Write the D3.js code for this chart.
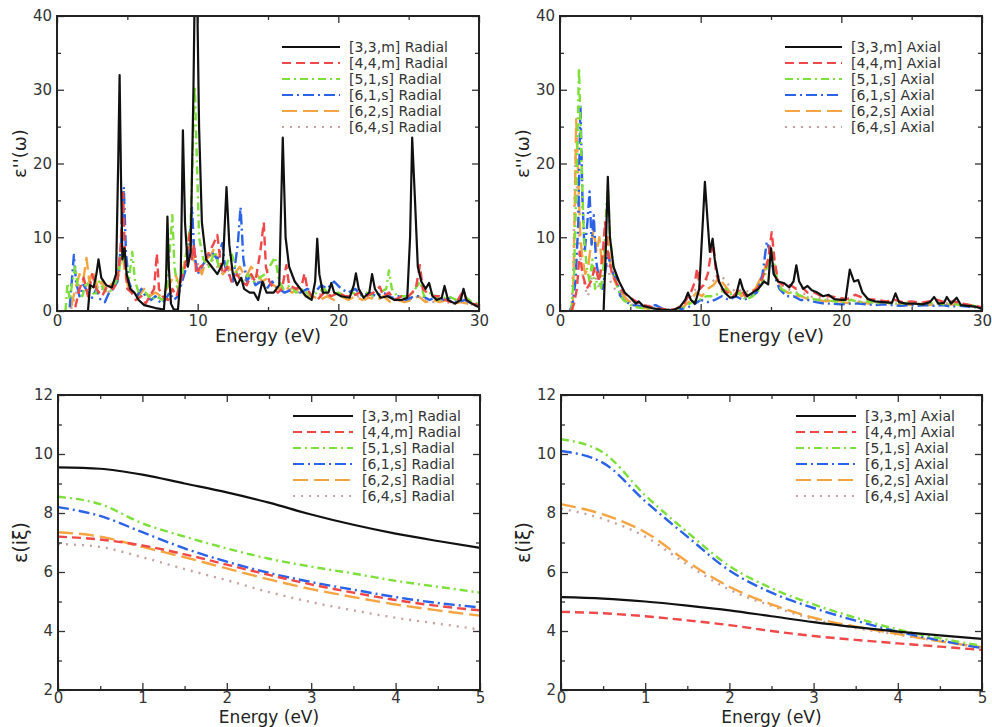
<!DOCTYPE html>
<html lang="en">
<head>
<meta charset="utf-8">
<title>Dielectric functions</title>
<script src="https://cdn.jsdelivr.net/npm/d3@7/dist/d3.min.js"></script>
<style>
  body { margin: 0; background: #fff; }
  text { font-family: "DejaVu Sans", sans-serif; }
</style>
</head>
<body>
<div id="chart"></div>
<script>
// series labels, same order everywhere
var tubes = ["[3,3,m]", "[4,4,m]", "[5,1,s]", "[6,1,s]", "[6,2,s]", "[6,4,s]"];

// eps''(w) radial, [energy eV, value]
var blackR = [[0,0],[2.2,0],[2.35,3.5],[2.6,3.2],[2.8,5],[2.95,7],[3.15,4.5],[3.5,3.5],[3.9,3.2],[4.2,5],[4.35,20],[4.45,32],[4.55,18],[4.65,7],[4.8,8.5],[4.95,5],[5.2,3],[5.5,2.5],[5.8,1.5],[6.2,0.8],[7,0.4],[7.6,0.2],[7.75,4],[7.85,12.8],[7.95,6],[8.1,1],[8.3,0.2],[8.6,0.2],[8.8,5],[8.95,24.5],[9.1,12],[9.3,6],[9.5,8],[9.7,30],[9.8,45],[9.95,45],[10.1,25],[10.3,12],[10.6,7],[11,6],[11.4,5],[11.8,6.5],[12.05,16.8],[12.25,9],[12.5,5],[12.8,3.5],[13.1,4.5],[13.3,3],[13.7,2.5],[14,2.5],[14.3,1.5],[14.6,4],[14.9,2.5],[15.4,2.5],[15.8,3.5],[16.05,23.5],[16.25,10],[16.5,6],[16.9,4],[17.3,3],[17.7,2],[18.1,1.5],[18.35,4],[18.5,9.8],[18.65,5],[18.9,2.5],[19.3,2.5],[19.5,3.8],[19.7,2.5],[20.2,2],[20.8,1.8],[21.1,3.5],[21.25,5.1],[21.45,3],[21.8,1.8],[22.2,2.5],[22.4,5],[22.6,3],[23,1.8],[23.5,2],[24,1.5],[24.5,1.5],[24.9,1.8],[25.1,10],[25.25,23.5],[25.45,15],[25.65,6],[25.9,4],[26.2,3],[26.45,3.8],[26.7,2],[27,1.5],[27.35,1.8],[27.55,3.4],[27.8,1.5],[28.3,1],[28.7,1.5],[28.9,3],[29.1,1.5],[29.5,1],[30,0.5]];
var redR = [[1.3,0.5],[1.6,3],[1.9,4.5],[2.2,2],[2.5,5],[2.8,3],[3.2,2],[3.6,3.5],[4.0,3],[4.3,4],[4.5,8],[4.7,16],[4.85,6],[5.0,3],[5.3,2.5],[5.6,1.5],[6.0,2],[6.3,1],[6.6,2],[6.9,3],[7.1,7.8],[7.25,3],[7.5,2],[7.9,1.5],[8.2,3],[8.5,2],[8.8,4],[9.1,6],[9.45,10.7],[9.6,7],[9.75,9],[9.9,5],[10.2,6],[10.5,6.5],[10.8,8],[11.1,9],[11.4,10.3],[11.6,7],[11.8,5],[12.1,6],[12.4,4],[12.8,5],[13.1,4],[13.5,3.5],[13.8,5],[14.1,4],[14.45,8],[14.7,12],[14.85,6],[15.1,4],[15.4,3],[15.7,2.5],[16.0,3],[16.3,6.2],[16.5,3.5],[17.0,3],[17.4,3.5],[17.6,5.1],[17.8,3],[18.1,2],[18.5,1.5],[19,2.5],[19.5,2],[20,2.5],[20.5,2],[21,2],[21.5,2.5],[22,2],[22.5,2.5],[22.95,3.3],[23.2,2],[23.6,2.5],[24,1.5],[24.5,2],[25,2],[25.5,3],[25.8,6.2],[26.0,3],[26.3,2.5],[26.8,2],[27.2,2],[27.6,1.5],[28,1.2],[28.5,1.5],[28.9,2.8],[29.1,1.5],[29.5,1],[30,0.8]];
var greenR = [[0.6,0],[0.75,3.8],[0.9,1.5],[1.1,4],[1.3,6],[1.5,3],[1.8,2],[2.1,4],[2.4,3],[2.7,2],[3.0,4],[3.3,3],[3.6,2.5],[4.0,3],[4.4,5],[4.6,9],[4.8,6],[5.1,4],[5.35,8],[5.55,4],[5.9,2],[6.3,2.5],[6.7,1.5],[7.1,2],[7.5,1.5],[7.8,3],[8.05,9],[8.2,13],[8.35,6],[8.6,3],[8.9,5],[9.2,8],[9.5,12],[9.7,25],[9.8,30.5],[9.95,20],[10.1,10],[10.4,7],[10.8,6],[11.2,8],[11.6,5.5],[12.0,6],[12.4,8],[12.8,5],[13.2,4],[13.6,5],[14.0,4],[14.4,4.5],[14.8,5],[15.1,6],[15.5,7.3],[15.8,4],[16.1,3],[16.6,3.5],[17,2.5],[17.5,3],[18,2],[18.5,2.5],[19,3],[19.5,2],[20,2.5],[20.5,2],[21,2.5],[21.5,2],[22,2.5],[22.5,2],[23,2.5],[23.4,3],[23.6,5.5],[23.8,3],[24.2,2],[24.8,2],[25.3,2.5],[25.8,4],[26.1,2],[26.6,2.5],[27.2,1.5],[27.8,2],[28.4,1.5],[29,2],[29.5,1.2],[30,1]];
var blueR = [[0.9,0.5],[1.05,4],[1.2,7.6],[1.35,4],[1.6,2],[1.9,3.5],[2.2,2.5],[2.5,1.8],[2.8,3],[3.1,1.5],[3.4,1.2],[3.7,2.5],[4.0,3],[4.3,4],[4.55,9],[4.75,16.8],[4.9,8],[5.1,4],[5.4,2.5],[5.7,2],[6.0,3],[6.3,2],[6.7,1.5],[7.0,2],[7.4,1],[7.7,1.5],[8.0,2.5],[8.3,1.5],[8.6,2],[8.9,4],[9.2,6],[9.45,10],[9.6,14],[9.75,8],[10,5],[10.3,6],[10.6,7],[11,8],[11.4,7],[11.75,9.2],[11.95,6],[12.2,5],[12.5,4],[12.85,9],[13.05,14.1],[13.25,7],[13.5,4],[13.8,5],[14.1,3.5],[14.5,4],[14.9,3],[15.3,4],[15.7,3],[16.2,2.5],[16.8,3],[17.3,2.5],[17.8,3],[18.3,2.5],[18.8,3.5],[19.2,3],[19.7,4],[20.2,3],[20.7,2.5],[21.2,3],[21.7,2],[22.2,2.5],[22.7,2],[23.2,2.5],[23.8,1.8],[24.3,2],[24.8,1.5],[25.4,2],[26,2],[26.5,1.5],[27,2],[27.5,1.5],[28,1.8],[28.5,1.2],[29,1.5],[29.5,1],[30,0.8]];
var orangeR = [[1.0,0.5],[1.3,3],[1.6,5],[1.85,4],[2.1,7.2],[2.3,4],[2.6,5.5],[2.9,3],[3.2,4],[3.5,2.5],[3.8,3.5],[4.1,4],[4.4,6],[4.65,8],[4.85,5],[5.1,3],[5.4,2.5],[5.8,2],[6.2,3],[6.6,2],[7.0,2.5],[7.4,2],[7.8,3],[8.1,4],[8.4,5],[8.7,3.5],[9.0,6],[9.3,8],[9.5,9.4],[9.7,7],[10,6],[10.3,5],[10.6,7],[10.9,7.5],[11.2,8.5],[11.5,6],[11.8,5],[12.2,6],[12.6,5],[13,6],[13.4,4.5],[13.8,6],[14.2,5],[14.6,4],[15,4.5],[15.4,3.5],[15.8,3],[16.2,3.5],[16.7,2.5],[17.2,3],[17.7,2],[18.2,2],[18.7,1.5],[19.2,2],[19.7,1.5],[20.2,2],[20.7,1.5],[21.2,2],[21.7,1.5],[22.2,1.8],[22.7,1.5],[23.2,2],[23.7,1.2],[24.2,1.5],[24.7,1.2],[25.2,1.5],[25.7,2],[26.2,1.2],[26.7,1.5],[27.2,1.2],[27.7,1.5],[28.2,1],[28.7,1.2],[29.2,1],[29.6,0.8],[30,0.6]];
var dotR = [[1.0,0.3],[1.3,2],[1.6,4],[2.0,3],[2.4,5],[2.8,3.5],[3.2,3],[3.6,2.5],[4.0,3],[4.4,5],[4.7,9],[4.9,5],[5.3,3],[5.7,2.5],[6.1,2],[6.5,2.5],[7.0,2],[7.5,1.5],[8.0,2.5],[8.4,3],[8.8,4],[9.2,6],[9.5,8],[9.7,10],[9.9,7],[10.2,5.5],[10.6,6],[11.0,7],[11.4,6],[11.8,5],[12.2,5.5],[12.6,4.5],[13.0,5],[13.5,4],[14,4.5],[14.5,3.5],[15,4],[15.5,3],[16,2.5],[16.6,3],[17.2,2.5],[17.8,2],[18.4,2.5],[19,2],[19.6,2.5],[20.2,2],[20.8,1.8],[21.4,2],[22,1.5],[22.6,2],[23.2,1.5],[23.8,1.8],[24.4,1.5],[25,1.5],[25.6,2],[26.2,1.5],[26.8,1.2],[27.4,1.5],[28,1],[28.6,1.2],[29.2,1],[30,0.7]];

// eps''(w) axial
var blackA = [[0,0],[3.1,0],[3.25,8],[3.4,18.2],[3.55,10],[3.8,6],[4.2,4],[4.6,2.5],[5.0,1.8],[5.4,1],[5.6,1.3],[5.9,0.7],[6.5,0.4],[7.2,0.2],[8.0,0.1],[8.5,0.5],[8.9,1.5],[9.1,2.5],[9.3,1.5],[9.6,1],[9.9,3],[10.15,12],[10.3,17.5],[10.5,12],[10.65,8],[10.85,9.8],[11.0,7],[11.3,4],[11.7,2.5],[12.1,1.8],[12.5,2],[12.8,4.3],[13.0,3],[13.3,2],[13.7,2.5],[14.1,3],[14.5,4],[14.8,3.6],[15.0,8.5],[15.2,5],[15.5,4],[15.9,3.8],[16.3,3.2],[16.6,4],[16.8,6.2],[17.0,4],[17.3,3],[17.6,3.4],[17.9,2.8],[18.3,2.5],[18.7,2],[19.1,2.2],[19.5,1.6],[20.0,1.5],[20.3,1.5],[20.6,5.6],[20.9,4],[21.2,4.2],[21.5,2.5],[21.9,1.6],[22.4,1.3],[23.0,1.2],[23.6,1.1],[23.85,2.4],[24.1,1.2],[24.6,1],[25.2,1],[25.8,0.9],[26.3,1.2],[26.6,1.9],[26.9,1],[27.3,1.1],[27.5,1.9],[27.8,1],[28.2,1.8],[28.5,0.8],[29,0.7],[29.5,0.6],[30,0.3]];
var redA = [[0.8,0],[1.0,1],[1.2,3],[1.4,8],[1.6,5],[1.9,3],[2.2,4],[2.5,6],[2.8,4],[3.05,8],[3.2,12],[3.4,8],[3.7,5],[4.1,3.5],[4.5,2.5],[5.0,1.8],[5.5,1.2],[6.0,0.8],[6.8,0.4],[7.5,0.2],[8.2,0.2],[8.8,1],[9.3,2.5],[9.6,4],[9.75,5.8],[9.95,3],[10.2,3.5],[10.5,5],[10.75,8],[10.9,9.2],[11.1,5],[11.5,3],[11.9,2.5],[12.3,2],[12.8,3],[13.2,2],[13.6,2.5],[14.0,3],[14.4,4.5],[14.8,7],[15.05,10.7],[15.25,7],[15.5,4],[15.9,3.5],[16.4,3.5],[16.8,3],[17.2,3.2],[17.6,2.5],[18.1,2.5],[18.6,2],[19.2,2],[19.8,1.8],[20.4,1.6],[21,2.2],[21.5,1.8],[22,1.6],[22.6,1.5],[23.2,1.3],[23.8,1.5],[24.4,1.2],[25,1.3],[25.6,1.1],[26.2,1.3],[26.8,1.5],[27.4,1.2],[28,1.3],[28.6,1],[29.2,0.8],[30,0.5]];
var greenA = [[0.8,0],[1.0,5],[1.2,20],[1.35,33],[1.5,22],[1.7,10],[1.9,6],[2.1,4],[2.3,7],[2.5,3],[2.7,5],[2.9,3],[3.1,6],[3.3,14],[3.4,17],[3.55,10],[3.8,6],[4.1,3],[4.5,1.5],[5.0,0.8],[5.5,0.5],[6.2,0.3],[7.0,0.2],[8.0,0.1],[8.8,0.5],[9.4,1.2],[9.9,1.5],[10.4,2],[10.9,2],[11.4,2.5],[11.8,3],[12.3,2],[12.8,2.5],[13.2,1.5],[13.7,2],[14.2,3],[14.6,5],[14.9,7],[15.1,8],[15.35,5],[15.7,3],[16.2,2.5],[16.7,2.5],[17.2,2],[17.7,1.8],[18.3,1.5],[18.9,1.5],[19.5,1.3],[20.1,1.2],[20.7,1.5],[21.3,1.2],[21.9,1.3],[22.5,1],[23.1,1.2],[23.7,1],[24.3,1],[24.9,1.2],[25.5,0.9],[26.1,1],[26.7,1.1],[27.3,0.9],[27.9,1],[28.5,0.8],[29.1,0.9],[29.6,0.6],[30,0.4]];
var blueA = [[0.7,0],[0.9,1],[1.1,4],[1.3,12],[1.45,28],[1.6,15],[1.75,8],[1.95,12],[2.1,16.2],[2.25,9],[2.4,13],[2.55,7],[2.8,4],[3.0,3],[3.2,5],[3.4,8],[3.6,6],[3.8,5],[4.0,4.5],[4.3,2],[4.7,1.2],[5.2,0.8],[6,0.6],[6.8,0.8],[7.3,0.3],[8,0.1],[8.7,0.3],[9.2,0.6],[9.6,1],[10,1.5],[10.5,1.2],[11,1.5],[11.5,2],[12,1.5],[12.5,2],[13,1.5],[13.5,1.8],[14,2.5],[14.4,5],[14.7,9.4],[14.95,8],[15.2,5],[15.6,3],[16.1,2],[16.6,2],[17.1,1.5],[17.6,1.5],[18.2,1.2],[18.8,1],[19.4,1],[20,0.9],[20.6,1],[21.2,1],[21.8,0.9],[22.4,0.8],[23,0.9],[23.6,0.8],[24.2,0.7],[24.8,0.8],[25.4,0.7],[26,0.8],[26.6,0.7],[27.2,0.8],[27.8,0.6],[28.4,0.7],[29,0.6],[29.6,0.5],[30,0.3]];
var orangeA = [[0.9,0],[1.0,8],[1.15,26],[1.3,18],[1.45,10],[1.6,7],[1.8,5],[2.0,6],[2.2,9],[2.4,11],[2.6,8],[2.8,10],[3.0,6],[3.2,8],[3.4,10],[3.6,6],[3.9,4],[4.3,2.5],[4.8,1.5],[5.3,0.8],[6,0.4],[7,0.2],[8,0.1],[8.8,0.6],[9.3,1.5],[9.7,2.5],[10.1,2],[10.5,3],[10.9,3.5],[11.3,4.5],[11.7,3.5],[12.1,2.5],[12.5,3],[12.9,2],[13.4,2.5],[13.9,3],[14.4,5],[14.8,7],[15.0,8.5],[15.3,5],[15.7,3],[16.2,2.5],[16.7,2],[17.2,2],[17.7,1.5],[18.3,1.5],[18.9,1.3],[19.5,1.5],[20.1,1.2],[20.7,1],[21.3,1.2],[21.9,1],[22.5,1],[23.1,1.2],[23.7,0.9],[24.3,1],[24.9,0.8],[25.5,1],[26.1,0.8],[26.7,0.9],[27.3,0.8],[27.9,0.9],[28.5,0.7],[29.1,0.8],[29.6,0.5],[30,0.4]];
var dotA = [[0.8,0],[0.95,6],[1.1,22],[1.25,15],[1.4,8],[1.6,5],[1.8,3],[2.0,2],[2.2,4],[2.4,6],[2.6,4],[2.8,3],[3.0,5],[3.2,7],[3.4,6],[3.6,4],[3.9,3],[4.3,2],[4.8,1.2],[5.3,0.7],[6,0.4],[7,0.2],[8,0.2],[8.8,0.8],[9.3,2],[9.8,3.5],[10.2,4],[10.6,4.5],[11.0,4],[11.4,5],[11.8,4],[12.2,3],[12.6,2.5],[13,3],[13.5,2.5],[14,3],[14.4,4.5],[14.8,6.5],[15.05,7.5],[15.3,5],[15.7,3.5],[16.2,3],[16.7,2.5],[17.2,2.5],[17.7,2],[18.3,1.8],[18.9,1.6],[19.5,1.5],[20.1,1.4],[20.7,1.5],[21.3,1.3],[21.9,1.2],[22.5,1.2],[23.1,1.1],[23.7,1.2],[24.3,1],[24.9,1.1],[25.5,1],[26.1,1.1],[26.7,1],[27.3,1.1],[27.9,0.9],[28.5,1],[29.1,0.8],[29.6,0.6],[30,0.4]];

// eps(i xi), sampled every 0.5 eV from 0 to 5
var xiGrid = [0, 0.5, 1, 1.5, 2, 2.5, 3, 3.5, 4, 4.5, 5];
var xiRadial = [
  [9.55, 9.5, 9.3, 9.0, 8.7, 8.35, 7.95, 7.6, 7.3, 7.05, 6.82],
  [7.2, 7.1, 6.9, 6.6, 6.25, 5.9, 5.58, 5.3, 5.05, 4.85, 4.7],
  [8.55, 8.3, 7.65, 7.2, 6.8, 6.45, 6.18, 5.95, 5.7, 5.5, 5.3],
  [8.2, 7.9, 7.35, 6.8, 6.35, 5.97, 5.66, 5.4, 5.15, 4.95, 4.8],
  [7.35, 7.2, 6.85, 6.5, 6.12, 5.75, 5.42, 5.15, 4.9, 4.7, 4.52],
  [6.95, 6.85, 6.5, 6.1, 5.72, 5.32, 4.98, 4.7, 4.45, 4.25, 4.05]
];
var xiAxial = [
  [5.15, 5.1, 5.0, 4.86, 4.7, 4.5, 4.3, 4.13, 3.98, 3.85, 3.73],
  [4.65, 4.6, 4.5, 4.36, 4.2, 4.0, 3.83, 3.7, 3.58, 3.47, 3.36],
  [10.5, 10.05, 8.6, 7.35, 6.2, 5.45, 4.9, 4.45, 4.05, 3.75, 3.5],
  [10.1, 9.7, 8.4, 7.2, 6.05, 5.3, 4.78, 4.35, 3.98, 3.68, 3.42],
  [8.3, 7.95, 7.35, 6.35, 5.5, 4.9, 4.45, 4.15, 3.9, 3.65, 3.45],
  [8.15, 7.8, 7.2, 6.25, 5.4, 4.85, 4.4, 4.1, 3.88, 3.65, 3.45]
];

var colors = ["#111111", "#f04848", "#7ddf3a", "#2a62e8", "#f5a442", "#c9a0a0"];
var dashes = [null, "9,5", "8,4,2,4", "11,4,2,4", "15,6", "2,6"];

function pairs(vals) { return xiGrid.map(function(e, i) { return [e, vals[i]]; }); }

var panels = [
  { l: 57, r: 479, t: 16, b: 311, xd: [0, 30], yd: [0, 40], xMaj: 10, xMin: 5, yMaj: 10, yMin: 5,
    ylab: "ε''(ω)", kind: "Radial", data: [blackR, redR, greenR, blueR, orangeR, dotR], lx: 282, ly: 47, lw: 58, curve: d3.curveLinear },
  { l: 560, r: 982, t: 16, b: 311, xd: [0, 30], yd: [0, 40], xMaj: 10, xMin: 5, yMaj: 10, yMin: 5,
    ylab: "ε''(ω)", kind: "Axial", data: [blackA, redA, greenA, blueA, orangeA, dotA], lx: 785, ly: 47, lw: 57, curve: d3.curveLinear },
  { l: 58, r: 480, t: 395, b: 690, xd: [0, 5], yd: [2, 12], xMaj: 1, xMin: 0.5, yMaj: 2, yMin: 1,
    ylab: "ε(iξ)", kind: "Radial", data: xiRadial.map(pairs), lx: 293, ly: 416, lw: 60, curve: d3.curveMonotoneX },
  { l: 561, r: 982, t: 395, b: 690, xd: [0, 5], yd: [2, 12], xMaj: 1, xMin: 0.5, yMaj: 2, yMin: 1,
    ylab: "ε(iξ)", kind: "Axial", data: xiAxial.map(pairs), lx: 796, ly: 416, lw: 60, curve: d3.curveMonotoneX }
];

var svg = d3.select("#chart").append("svg")
  .attr("width", 992)
  .attr("height", 727);

panels.forEach(function(p, pi) {
  var x = d3.scaleLinear().domain(p.xd).range([p.l, p.r]);
  var y = d3.scaleLinear().domain(p.yd).range([p.b, p.t]);
  var g = svg.append("g");
  var top = pi < 2;

  g.append("clipPath").attr("id", "clip" + pi)
    .append("rect").attr("x", p.l).attr("y", p.t).attr("width", p.r - p.l).attr("height", p.b - p.t);

  var line = d3.line().x(function(d) { return x(d[0]); }).y(function(d) { return y(d[1]); }).curve(p.curve);

  // coloured ones first, black on top
  [5, 4, 3, 2, 1, 0].forEach(function(k) {
    g.append("path")
      .attr("clip-path", "url(#clip" + pi + ")")
      .attr("d", line(p.data[k]))
      .attr("fill", "none")
      .attr("stroke", colors[k])
      .attr("stroke-width", k == 0 ? 2.2 : 2.4)
      .attr("stroke-linejoin", "round")
      .attr("stroke-dasharray", dashes[k]);
  });

  // ticks, inward on all four sides
  var xMajor = d3.range(p.xd[0], p.xd[1] + 1e-9, p.xMaj);
  var xMinor = d3.range(p.xd[0], p.xd[1] + 1e-9, p.xMin).filter(function(v) { return xMajor.indexOf(v) < 0; });
  var yMajor = d3.range(p.yd[0], p.yd[1] + 1e-9, p.yMaj);
  var yMinor = d3.range(p.yd[0], p.yd[1] + 1e-9, p.yMin).filter(function(v) { return yMajor.indexOf(v) < 0; });

  function axisStyle(sel) {
    sel.select(".domain").remove();
    sel.selectAll("line").attr("stroke", "#333").attr("stroke-width", 1.3);
    sel.selectAll("text").attr("fill", "#333").style("font-size", "15px").style("font-family", "DejaVu Sans");
  }

  g.append("g").attr("transform", "translate(0," + p.b + ")")
    .call(d3.axisBottom(x).tickValues(xMajor).tickSize(-7).tickPadding(top ? 4 : 2).tickFormat(d3.format("d")))
    .call(axisStyle);
  g.append("g").attr("transform", "translate(0," + p.b + ")")
    .call(d3.axisBottom(x).tickValues(xMinor).tickSize(-4).tickFormat(""))
    .call(axisStyle);
  g.append("g").attr("transform", "translate(0," + p.t + ")")
    .call(d3.axisTop(x).tickValues(xMajor).tickSize(-7).tickFormat(""))
    .call(axisStyle);
  g.append("g").attr("transform", "translate(0," + p.t + ")")
    .call(d3.axisTop(x).tickValues(xMinor).tickSize(-4).tickFormat(""))
    .call(axisStyle);
  g.append("g").attr("transform", "translate(" + p.l + ",0)")
    .call(d3.axisLeft(y).tickValues(yMajor).tickSize(-7).tickPadding(5).tickFormat(d3.format("d")))
    .call(axisStyle);
  g.append("g").attr("transform", "translate(" + p.l + ",0)")
    .call(d3.axisLeft(y).tickValues(yMinor).tickSize(-4).tickFormat(""))
    .call(axisStyle);
  g.append("g").attr("transform", "translate(" + p.r + ",0)")
    .call(d3.axisRight(y).tickValues(yMajor).tickSize(-7).tickFormat(""))
    .call(axisStyle);
  g.append("g").attr("transform", "translate(" + p.r + ",0)")
    .call(d3.axisRight(y).tickValues(yMinor).tickSize(-4).tickFormat(""))
    .call(axisStyle);

  // frame
  g.append("rect")
    .attr("x", p.l).attr("y", p.t).attr("width", p.r - p.l).attr("height", p.b - p.t)
    .attr("fill", "none").attr("stroke", "#222").attr("stroke-width", 2);

  // axis titles
  g.append("text")
    .attr("x", (p.l + p.r) / 2).attr("y", p.b + (top ? 31 : 33))
    .attr("text-anchor", "middle").attr("fill", "#222")
    .style("font-size", top ? "18px" : "17px")
    .text("Energy (eV)");
  g.append("text")
    .attr("transform", "translate(" + (p.l - 31) + "," + ((p.t + p.b) / 2 - (top ? 10 : 0)) + ") rotate(-90)")
    .attr("text-anchor", "middle").attr("fill", "#222")
    .style("font-size", top ? "18px" : "19px")
    .text(p.ylab);

  // legend
  tubes.forEach(function(name, k) {
    var ly = p.ly + k * 16;
    g.append("line")
      .attr("x1", p.lx).attr("x2", p.lx + p.lw).attr("y1", ly).attr("y2", ly)
      .attr("stroke", colors[k]).attr("stroke-width", 2)
      .attr("stroke-dasharray", dashes[k]);
    g.append("text")
      .attr("x", p.lx + p.lw + 9).attr("y", ly + 5)
      .attr("fill", "#333")
      .style("font-size", "14px")
      .text(name + " " + p.kind);
  });
});
</script>
</body>
</html>
